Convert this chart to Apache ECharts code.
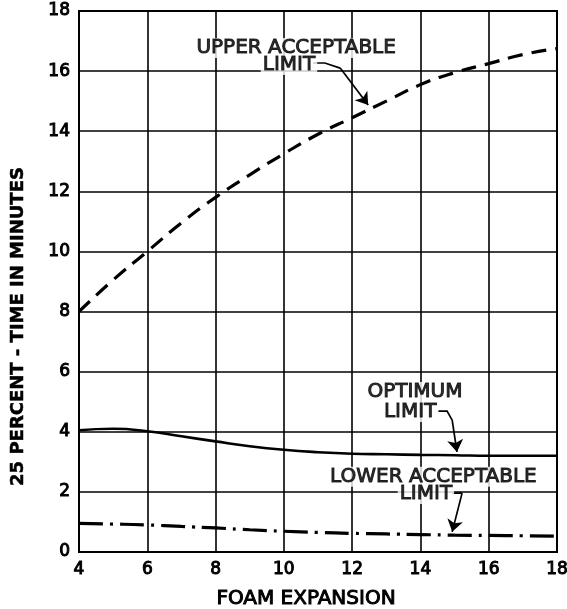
<!DOCTYPE html>
<html>
<head>
<meta charset="utf-8">
<script src="https://cdn.jsdelivr.net/npm/echarts@6/dist/echarts.min.js"></script>
<style>html,body{margin:0;padding:0;background:#fff;}#c{width:567px;height:609px;}</style>
</head>
<body>
<div id="c"></div>
<script>
const foamExpansion = [4, 5, 6, 7, 8, 9, 10, 11, 12, 13, 14, 15, 16, 17, 18];
const upperLimit   = [8.0, 9.05, 10.0, 10.95, 11.8, 12.55, 13.25, 13.9, 14.45, 15.0, 15.55, 15.95, 16.25, 16.55, 16.75];
const optimumLimit = [4.05, 4.1, 4.02, 3.85, 3.68, 3.52, 3.4, 3.32, 3.27, 3.25, 3.23, 3.22, 3.2, 3.2, 3.2];
const lowerLimit   = [0.95, 0.93, 0.9, 0.85, 0.8, 0.74, 0.69, 0.65, 0.62, 0.6, 0.58, 0.56, 0.55, 0.54, 0.53];
const xTicks = [4, 6, 8, 10, 12, 14, 16, 18];
const yTicks = [0, 2, 4, 6, 8, 10, 12, 14, 16, 18];

const labelTexts = [
  {text: 'UPPER ACCEPTABLE', pos: [10.36, 16.77]},
  {text: 'LIMIT', pos: [10.15, 16.2]},
  {text: 'OPTIMUM', pos: [13.84, 5.32]},
  {text: 'LIMIT', pos: [13.7, 4.66]},
  {text: 'LOWER ACCEPTABLE', pos: [14.38, 2.5]},
  {text: 'LIMIT', pos: [14.16, 1.93]}
];
const leaders = [
  [[10.85, 16.27], [11.2, 16.27], [11.65, 16.1], [12.47, 14.87]],
  [[14.52, 4.69], [14.78, 4.69], [14.93, 4.39], [15.07, 3.33]],
  [[14.93, 1.96], [15.22, 1.96], [14.93, 0.67]]
];

const font = 'DejaVu Sans';
const zip = (a, b) => a.map((v, i) => [v, b[i]]);
const ink = {color: '#000', textBorderColor: '#000', textBorderWidth: 1};

const chart = echarts.init(document.getElementById('c'), null, {renderer: 'canvas'});
chart.setOption({
  animation: false,
  backgroundColor: '#fff',
  grid: {left: 79, right: 10, top: 11, bottom: 57, outerBoundsMode: 'none', containLabel: false,
    show: true, borderColor: '#000', borderWidth: 2, backgroundColor: 'transparent'},
  xAxis: {
    type: 'value', min: 4, max: 18, interval: 2,
    name: 'FOAM EXPANSION', nameLocation: 'middle', nameGap: 37,
    nameTextStyle: Object.assign({fontFamily: font, fontSize: 20, padding: [0, 24, 0, 0]}, ink),
    axisLine: {show: true, lineStyle: {color: '#000', width: 2}},
    axisTick: {show: false},
    axisLabel: Object.assign({fontFamily: font, fontSize: 17, margin: 9,
      formatter: v => xTicks.includes(v) ? String(v) : ''}, ink),
    splitLine: {show: true, lineStyle: {color: '#000', width: 1.6}}
  },
  yAxis: {
    type: 'value', min: 0, max: 18, interval: 2,
    name: '25 PERCENT - TIME IN MINUTES', nameLocation: 'middle', nameGap: 52, nameRotate: 90,
    nameTextStyle: {fontFamily: font, fontSize: 18, fontWeight: 'bold', color: '#000',
      textBorderColor: '#000', textBorderWidth: 0.5, padding: [0, 90, 0, 0]},
    axisLine: {show: true, lineStyle: {color: '#000', width: 2}},
    axisTick: {show: false},
    axisLabel: Object.assign({fontFamily: font, fontSize: 17, margin: 9,
      formatter: v => yTicks.includes(v) ? String(v) : ''}, ink),
    splitLine: {show: true, lineStyle: {color: '#000', width: 1.6}}
  },
  series: [
    {type: 'line', data: zip(foamExpansion, upperLimit), smooth: true, symbol: 'none',
     lineStyle: {color: '#000', width: 3.2, type: [15, 9]}, z: 5},
    {type: 'line', data: zip(foamExpansion, optimumLimit), smooth: true, symbol: 'none',
     lineStyle: {color: '#000', width: 2.6}, z: 5},
    {type: 'line', data: zip(foamExpansion, lowerLimit), smooth: true, symbol: 'none',
     lineStyle: {color: '#000', width: 3.2, type: [24, 7, 3, 7]}, z: 5},
    {type: 'scatter', symbolSize: 0, z: 6, silent: true,
     data: labelTexts.map(l => ({value: l.pos, name: l.text})),
     label: Object.assign({show: true, position: 'inside', formatter: p => p.name,
       fontFamily: font, fontSize: 20, backgroundColor: '#fff', padding: [0, 2]}, ink)},
    {type: 'lines', coordinateSystem: 'cartesian2d', polyline: true, z: 6, silent: true,
     symbol: 'none',
     lineStyle: {color: '#000', width: 1.7, opacity: 1},
     data: leaders.map(c => ({coords: c.slice(0, c.length - 1)}))},
    {type: 'lines', coordinateSystem: 'cartesian2d', z: 6, silent: true,
     symbol: ['none', 'arrow'], symbolSize: [7, 12],
     lineStyle: {color: '#000', width: 1.7, opacity: 1, curveness: 0},
     data: leaders.map(c => ({coords: c.slice(c.length - 2)}))}
  ]
});
</script>
</body>
</html>
